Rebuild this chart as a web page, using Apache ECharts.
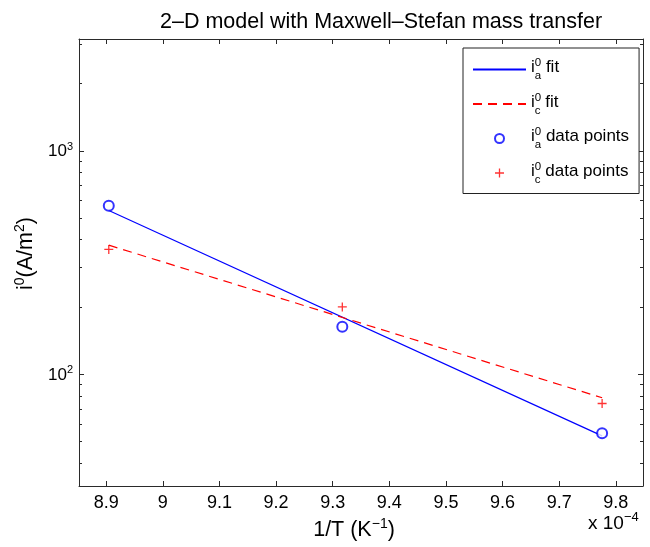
<!DOCTYPE html>
<html>
<head>
<meta charset="utf-8">
<script src="https://cdn.jsdelivr.net/npm/echarts@6/dist/echarts.min.js"></script>
<style>
html,body{margin:0;padding:0;background:#fff;}
#chart{width:650px;height:547px;}
</style>
</head>
<body>
<div id="chart"></div>
<script>
// ---- data (x in units of 1e-4 K^-1) ----
var xPoints = [8.9046, 9.317, 9.7758];
var iaPoints = [568, 163, 54.5];
var icPoints = [362, 200, 74];
var fitX = [8.9046, 9.7758];
var iaFit = [540, 53];
var icFit = [378, 78.5];
var xTicks = [8.9, 9.0, 9.1, 9.2, 9.3, 9.4, 9.5, 9.6, 9.7, 9.8];
var yMajorTicks = [100, 1000];
var yMinorTicks = [40, 50, 60, 70, 80, 90, 200, 300, 400, 500, 600, 700, 800, 900, 2000, 3000];
var xMin = 8.852, xMax = 9.848;
var yMin = 31.6228, yMax = 3162.28;

function pairs(xs, ys) { return xs.map(function (x, i) { return [x, ys[i]]; }); }

var FONT = 'Liberation Sans';
var AX = '#2a2a2a';
var rich = {
  b: { fontSize: 17, fontFamily: FONT, color: '#000', verticalAlign: 'bottom', padding: [0, 0, 6, 0] },
  sup: { fontSize: 11.5, fontFamily: FONT, color: '#000', verticalAlign: 'bottom', padding: [0, 0, 13, 0], width: 0 },
  sub: { fontSize: 11.5, fontFamily: FONT, color: '#000', verticalAlign: 'bottom', padding: [0, 0, 0, 0] }
};
var legendNames = {
  'ia fit': '{b|i}{sup|0}{sub|a}{b| fit}',
  'ic fit': '{b|i}{sup|0}{sub|c}{b| fit}',
  'ia data points': '{b|i}{sup|0}{sub|a}{b| data points}',
  'ic data points': '{b|i}{sup|0}{sub|c}{b| data points}'
};
var plusPath = 'path://M3.85,0H5.15V3.85H9V5.15H5.15V9H3.85V5.15H0V3.85H3.85Z';
var nameRich = {
  b: { fontSize: 21.5, fontFamily: FONT, color: '#000', verticalAlign: 'bottom' },
  supw: { fontSize: 14, fontFamily: FONT, color: '#000', verticalAlign: 'bottom', padding: [0, 0, 10, 0] }
};

function yAxisDef(pos, ticks, len, showLine, showLabel) {
  return {
    type: 'log', logBase: 10, position: pos, min: yMin, max: yMax, gridIndex: 0,
    axisLine: { show: showLine, onZero: false, lineStyle: { color: AX, width: 1 } },
    axisTick: { show: true, inside: true, length: len, customValues: ticks, lineStyle: { color: AX, width: 1 } },
    axisLabel: showLabel ? {
      show: true, customValues: yMajorTicks, margin: 6,
      formatter: function (v) { return '{b|10}{supw|' + Math.round(Math.log10(v)) + '}'; },
      rich: {
        b: { fontSize: 17, fontFamily: FONT, color: '#000', verticalAlign: 'bottom', padding: [0, 0, 0, 0] },
        supw: { fontSize: 11, fontFamily: FONT, color: '#000', verticalAlign: 'bottom', padding: [0, 0, 8, 0] }
      }
    } : { show: false },
    splitLine: { show: false }, minorTick: { show: false }
  };
}

var chart = echarts.init(document.getElementById('chart'), null, { renderer: 'canvas' });
var yName = yAxisDef('left', yMajorTicks, 5, true, true);
yName.name = '{b|i}{supw|0}{b|(A/m}{supw|2}{b|)}';
yName.nameLocation = 'middle';
yName.nameRotate = 90;
yName.nameGap = 38;
yName.nameTextStyle = { rich: nameRich, padding: [0, 0, 0, 18] };

var option = {
  backgroundColor: '#fff',
  animation: false,
  title: {
    text: '2\u2013D model with Maxwell\u2013Stefan mass transfer',
    left: 155, top: 6,
    textStyle: { fontSize: 21.5, fontWeight: 'normal', fontFamily: FONT, color: '#000' }
  },
  grid: { left: 79, top: 39, right: 7, bottom: 61, containLabel: false },
  xAxis: [{
    type: 'value', position: 'bottom', min: xMin, max: xMax,
    axisLine: { show: true, onZero: false, lineStyle: { color: AX, width: 1 } },
    axisTick: { show: true, inside: true, length: 5, customValues: xTicks, lineStyle: { color: AX } },
    axisLabel: { show: true, customValues: xTicks, margin: 8, fontSize: 18, fontFamily: FONT, color: '#000',
      formatter: function (v) { return String(+v.toFixed(1)); } },
    splitLine: { show: false },
    name: '{b|1/T (K}{supw|\u22121}{b|)}', nameLocation: 'middle', nameGap: 28,
    nameTextStyle: { rich: nameRich, padding: [0, 14, 0, 0] }
  }, {
    type: 'value', position: 'top', min: xMin, max: xMax,
    axisLine: { show: true, onZero: false, lineStyle: { color: AX, width: 1 } },
    axisTick: { show: true, inside: true, length: 5, customValues: xTicks, lineStyle: { color: AX } },
    axisLabel: { show: false }, splitLine: { show: false }
  }],
  yAxis: [
    yName,
    yAxisDef('right', yMajorTicks, 5, true, false),
    yAxisDef('left', yMinorTicks, 3, false, false),
    yAxisDef('right', yMinorTicks, 3, false, false)
  ],
  legend: {
    orient: 'vertical', left: 463, top: 48,
    itemWidth: 53, itemHeight: 9, itemGap: 9.5,
    padding: [9, 10, 8, 9],
    borderColor: '#222', borderWidth: 1, backgroundColor: '#fff',
    selectedMode: false,
    data: [
      { name: 'ia fit', itemStyle: { opacity: 0 } },
      { name: 'ic fit', itemStyle: { opacity: 0 } },
      'ia data points', 'ic data points'
    ],
    formatter: function (name) { return legendNames[name]; },
    textStyle: { rich: rich }
  },
  series: [{
    name: 'ia fit', type: 'line', data: pairs(fitX, iaFit), symbol: 'none', showSymbol: false,
    lineStyle: { color: '#0000ff', width: 1.2 }, itemStyle: { color: '#0000ff' }, z: 2
  }, {
    name: 'ic fit', type: 'line', data: pairs(fitX, icFit), symbol: 'none', showSymbol: false,
    lineStyle: { color: '#ff0000', width: 1.2, type: [9, 6] }, itemStyle: { color: '#ff0000' }, z: 2
  }, {
    name: 'ia data points', type: 'scatter', data: pairs(xPoints, iaPoints), symbol: 'emptyCircle', symbolSize: 10,
    itemStyle: { color: '#0000ff', borderColor: '#0000ff', borderWidth: 1.3 }, z: 3
  }, {
    name: 'ic data points', type: 'scatter', data: pairs(xPoints, icPoints), symbol: plusPath, symbolSize: 9,
    itemStyle: { color: '#ff0000' }, z: 3
  }],
  graphic: [{
    type: 'text', left: 588, top: 511,
    style: {
      text: '{b|x 10}{s|\u22124}',
      rich: {
        b: { fontSize: 19, fontFamily: FONT, fill: '#000', verticalAlign: 'bottom' },
        s: { fontSize: 13, fontFamily: FONT, fill: '#000', verticalAlign: 'bottom', padding: [0, 0, 9, 0] }
      }
    }
  }]
};
chart.setOption(option);
</script>
</body>
</html>
